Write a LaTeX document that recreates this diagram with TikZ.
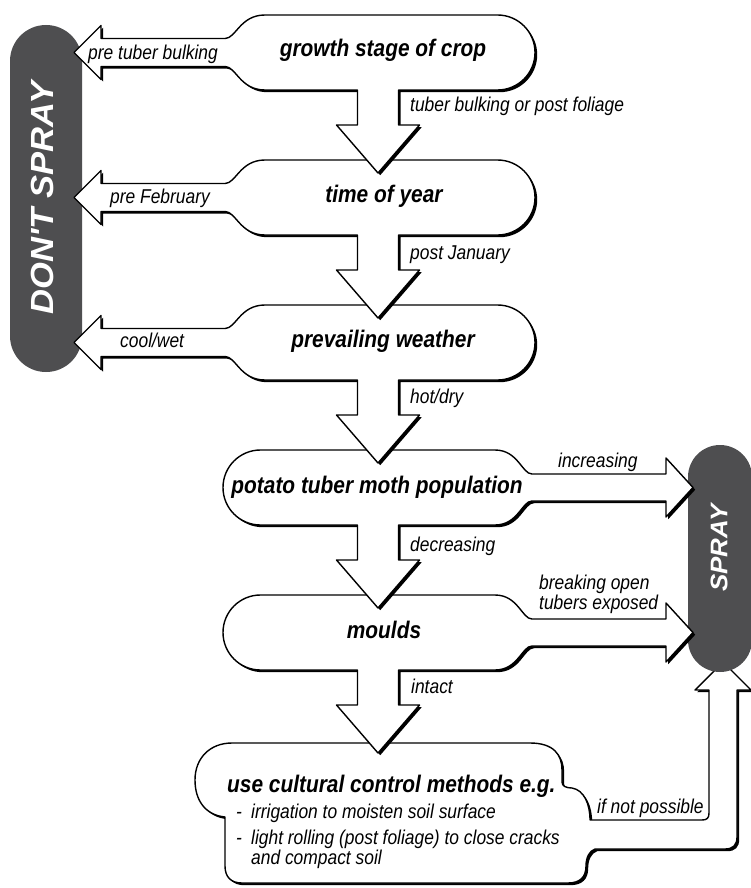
\documentclass[tikz,border=0pt]{standalone}
\usepackage{fontspec}
\newfontfamily\lab{Liberation Sans}[FakeStretch=0.87]
\newfontfamily\widefont{Liberation Sans}[FakeStretch=1.08]
\definecolor{pillgray}{RGB}{78,78,80}
\tikzset{
  outline/.style={fill=white, draw=black, line width=1.4pt, line join=round},
  shadowfill/.style={fill=black, shift={(2.2,-2.2)}},
  ptext/.style={font=\lab\bfseries\itshape\fontsize{24}{28}\selectfont, inner sep=0pt},
  lbl/.style={font=\lab\itshape\fontsize{20}{18}\selectfont, inner sep=0pt},
  bigword/.style={font=\widefont\bfseries\itshape, text=white, inner sep=0pt, rotate=90},
}
% decision box with arrow to the left and arrow down
\newcommand{\shapeLeftDown}[1]{%
  \path[#1] (265,37.5) -- (497.5,37.5) arc[start angle=90, end angle=-90, radius=37.5]
    -- (398.5,-37.5) -- (398.5,-72.5) -- (419.5,-72.5) -- (378,-120.5) -- (336.5,-72.5)
    -- (357.5,-72.5) -- (357.5,-37.5) -- (265,-37.5)
    .. controls (240,-37.5) and (236,-14) .. (225,-14)
    -- (101,-14) -- (101,-27) -- (74,0) -- (101,27) -- (101,14) -- (225,14)
    .. controls (236,14) and (240,37.5) .. (265,37.5) -- cycle;}
% decision box with arrow to the right and arrow down
\newcommand{\shapeRightDown}[1]{%
  \path[#1] (260.5,37.5) -- (495,37.5) .. controls (518,37.5) and (522,13.5) .. (532,13.5)
    -- (666,13.5) -- (666,29.5) -- (693,0) -- (666,-29.5) -- (666,-13.5) -- (532,-13.5)
    .. controls (522,-13.5) and (518,-37.5) .. (495,-37.5)
    -- (398.5,-37.5) -- (398.5,-72.5) -- (419.5,-72.5) -- (378,-120.5) -- (336.5,-72.5)
    -- (357.5,-72.5) -- (357.5,-37.5) -- (260.5,-37.5)
    arc[start angle=270, end angle=90, radius=37.5] -- cycle;}
% final box with return arrow to SPRAY
\newcommand{\shapeCultural}[1]{%
  \path[#1] (232,-743) -- (530,-743) .. controls (554,-743) and (562,-755) .. (562,-770)
    -- (562,-782) .. controls (562,-786) and (566,-788) .. (572,-788)
    .. controls (584,-790) and (590,-804) .. (590,-820)
    -- (702,-820) .. controls (707,-820) and (709,-818) .. (709,-813)
    -- (709,-690) -- (695,-690) -- (723,-662) -- (751,-690) -- (737,-690)
    -- (737,-837) .. controls (737,-845) and (733,-849) .. (725,-849)
    -- (595,-849) .. controls (589,-851) and (586,-858) .. (586,-866)
    .. controls (586,-877) and (580,-883) .. (568,-883)
    -- (242,-883) .. controls (231,-883) and (225,-877) .. (225,-866)
    -- (225,-817) .. controls (205,-815) and (195,-800) .. (195,-780)
    .. controls (195,-758) and (210,-743) .. (232,-743) -- cycle;}
\begin{document}
\begin{tikzpicture}[x=1pt, y=1pt]
\useasboundingbox (0,0) rectangle (751,-888);
\fill[white] (0,0) rectangle (751,-888);

% DON'T SPRAY pill
\fill[pillgray, rounded corners=36pt] (10,-25) rectangle (82,-372);
\node[bigword, font=\widefont\bfseries\itshape\fontsize{32}{36}\selectfont] (dont) at (42,-198) {DON'T SPRAY};

% cultural control box with return arrow
\shapeCultural{shadowfill}
\shapeCultural{outline}

% SPRAY pill
\fill[pillgray, rounded corners=32pt] (688,-445) rectangle (752,-672);
\node[bigword, font=\widefont\bfseries\itshape\fontsize{24}{28}\selectfont] (spray) at (719,-548) {SPRAY};

% moulds
\begin{scope}[yshift=-632.5pt]
\shapeRightDown{shadowfill}
\shapeRightDown{outline}
\end{scope}
% moth population
\begin{scope}[yshift=-487.5pt]
\shapeRightDown{shadowfill}
\shapeRightDown{outline}
\end{scope}
% prevailing weather
\begin{scope}[yshift=-342.5pt]
\shapeLeftDown{shadowfill}
\shapeLeftDown{outline}
\end{scope}
% time of year
\begin{scope}[yshift=-197.5pt]
\shapeLeftDown{shadowfill}
\shapeLeftDown{outline}
\end{scope}
% growth stage
\begin{scope}[yshift=-52.5pt]
\shapeLeftDown{shadowfill}
\shapeLeftDown{outline}
\end{scope}

% box texts
\node[ptext, anchor=base] (growth) at (383,-57) {growth stage of crop};
\node[ptext, anchor=base] (time) at (384,-202) {time of year};
\node[ptext, anchor=base] (weather) at (383,-347) {prevailing weather};
\node[ptext, anchor=base] (moth) at (377,-493) {potato tuber moth population};
\node[ptext, anchor=base] (moulds) at (384,-638) {moulds};
\node[ptext, anchor=base west] (cult) at (227,-792) {use cultural control methods e.g.};
\node[lbl, anchor=base west] (d1) at (236,-818) {-};
\node[lbl, anchor=base west] (b1) at (251,-818) {irrigation to moisten soil surface};
\node[lbl, anchor=base west] (d2) at (236,-844) {-};
\node[lbl, anchor=base west] (b2) at (251,-844) {light rolling (post foliage) to close cracks};
\node[lbl, anchor=base west] (b3) at (251,-864) {and compact soil};

% arrow labels
\node[lbl, anchor=base west] (l1) at (88,-60) {pre tuber bulking};
\node[lbl, anchor=base west] (l2) at (410,-112) {tuber bulking or post foliage};
\node[lbl, anchor=base west] (l3) at (110,-203) {pre February};
\node[lbl, anchor=base west] (l4) at (410,-259) {post January};
\node[lbl, anchor=base west] (l5) at (120,-347) {cool/wet};
\node[lbl, anchor=base west] (l6) at (410,-403) {hot/dry};
\node[lbl, anchor=base west] (l7) at (558,-467) {increasing};
\node[lbl, anchor=base west] (l8) at (410,-551) {decreasing};
\node[lbl, anchor=base west] (l9) at (539,-589) {breaking open};
\node[lbl, anchor=base west] (l10) at (539,-609) {tubers exposed};
\node[lbl, anchor=base west] (l11) at (411,-693) {intact};
\node[lbl, anchor=base west] (l12) at (597,-813) {if not possible};
\end{tikzpicture}
\end{document}
